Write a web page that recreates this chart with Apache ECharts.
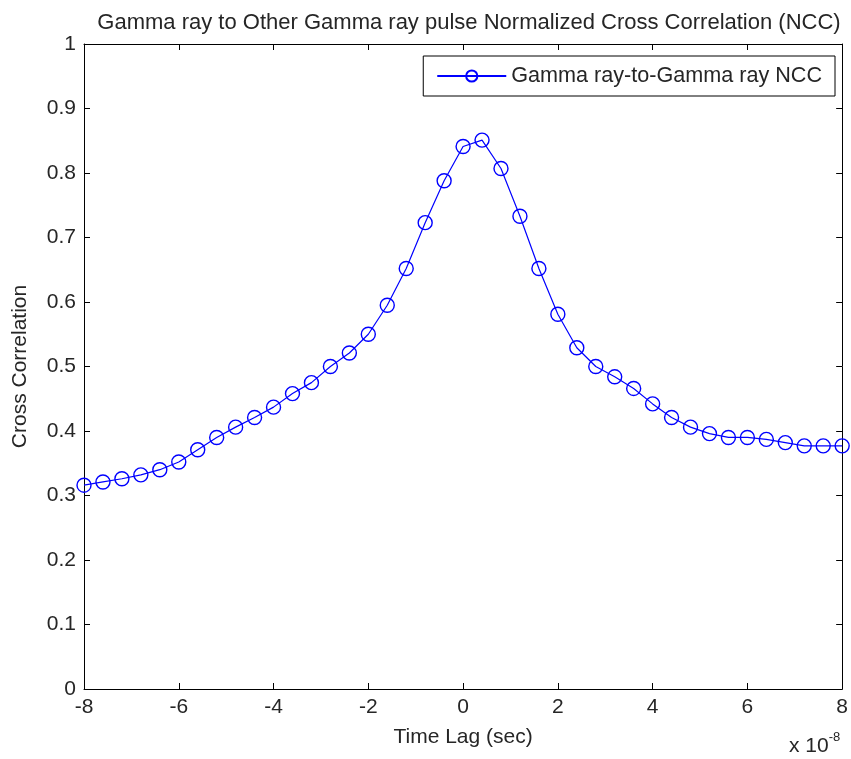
<!DOCTYPE html>
<html>
<head>
<meta charset="utf-8">
<script src="https://cdn.jsdelivr.net/npm/echarts@6/dist/echarts.min.js"></script>
<style>
  html, body { margin: 0; padding: 0; background: #fff; }
  #chart { width: 851px; height: 759px; }
</style>
</head>
<body>
<div id="chart"></div>
<script>
// Time lag, in units of 1e-8 s
const lags = [
  -8.0, -7.6, -7.2, -6.8, -6.4, -6.0, -5.6, -5.2, -4.8, -4.4,
  -4.0, -3.6, -3.2, -2.8, -2.4, -2.0, -1.6, -1.2, -0.8, -0.4,
   0.0,  0.4,  0.8,  1.2,  1.6,  2.0,  2.4,  2.8,  3.2,  3.6,
   4.0,  4.4,  4.8,  5.2,  5.6,  6.0,  6.4,  6.8,  7.2,  7.6, 8.0
];
// Normalized cross correlation at each lag
const ncc = [
  0.316, 0.321, 0.326, 0.332, 0.340, 0.352, 0.371, 0.390, 0.406, 0.421,
  0.437, 0.458, 0.475, 0.500, 0.521, 0.550, 0.595, 0.652, 0.723, 0.788,
  0.841, 0.851, 0.807, 0.733, 0.652, 0.581, 0.529, 0.500, 0.484, 0.466,
  0.442, 0.421, 0.406, 0.396, 0.390, 0.390, 0.387, 0.382, 0.377, 0.377, 0.377
];
const seriesName = 'Gamma ray-to-Gamma ray NCC';
const titleText = 'Gamma ray to Other Gamma ray pulse Normalized Cross Correlation (NCC)';

const FONT = 'Liberation Sans, Arial, sans-serif';
const INK = '#000000';
const TEXT = '#262626';
const FS = 21;

const points = lags.map((x, i) => [x, ncc[i]]);

const chart = echarts.init(document.getElementById('chart'), null, { renderer: 'canvas' });

// Mirror axes that close the box on the top and right, with inward ticks
const frameAxis = {
  type: 'value',
  axisLine: { show: true, onZero: false, lineStyle: { color: INK, width: 1 } },
  axisTick: { show: true, inside: true, length: 6, lineStyle: { color: INK } },
  axisLabel: { show: false },
  splitLine: { show: false }
};

chart.setOption({
  animation: false,
  backgroundColor: '#ffffff',
  title: {
    text: titleText,
    left: 464, top: 7,
    textAlign: 'center',
    textStyle: { fontFamily: FONT, fontSize: 22, fontWeight: 'normal', color: TEXT }
  },
  grid: { left: 84, right: 7, top: 44, bottom: 70, containLabel: false },
  legend: {
    right: 16, top: 56,
    data: [seriesName],
    backgroundColor: '#ffffff',
    borderColor: INK, borderWidth: 1,
    padding: [9, 13, 9, 13],
    itemWidth: 69, itemHeight: 14,
    itemGap: 6,
    textStyle: { fontFamily: FONT, fontSize: 21.6, color: TEXT, padding: [0, 0, 0, 0] }
  },
  xAxis: [
    {
      type: 'value',
      min: -8, max: 8, interval: 2,
      name: 'Time Lag (sec)',
      nameLocation: 'middle', nameGap: 38,
      nameTextStyle: { fontFamily: FONT, fontSize: FS, color: TEXT },
      axisLine: { show: true, onZero: false, lineStyle: { color: INK, width: 1 } },
      axisTick: { show: true, inside: true, length: 6, lineStyle: { color: INK } },
      axisLabel: { fontFamily: FONT, fontSize: FS, color: TEXT, margin: 8 },
      splitLine: { show: false }
    },
    Object.assign({}, frameAxis, { min: -8, max: 8, interval: 2, position: 'top' })
  ],
  yAxis: [
    {
      type: 'value',
      min: 0, max: 1, interval: 0.1,
      name: 'Cross Correlation',
      nameLocation: 'middle', nameGap: 53, nameRotate: 90,
      nameTextStyle: { fontFamily: FONT, fontSize: FS, color: TEXT },
      axisLine: { show: true, onZero: false, lineStyle: { color: INK, width: 1 } },
      axisTick: { show: true, inside: true, length: 6, lineStyle: { color: INK } },
      axisLabel: { fontFamily: FONT, fontSize: FS, color: TEXT, margin: 8 },
      splitLine: { show: false }
    },
    Object.assign({}, frameAxis, { min: 0, max: 1, interval: 0.1, position: 'right' })
  ],
  graphic: [{
    type: 'text',
    left: 789, top: 731,
    style: {
      text: '{b|x 10}{s|-8}',
      rich: {
        b: { fontFamily: FONT, fontSize: FS, fill: TEXT, verticalAlign: 'bottom', lineHeight: 26 },
        s: { fontFamily: FONT, fontSize: 13, fill: TEXT, verticalAlign: 'top', lineHeight: 26 }
      }
    }
  }],
  series: [{
    name: seriesName,
    type: 'line',
    xAxisIndex: 0, yAxisIndex: 0,
    data: points,
    symbol: 'circle',
    symbolSize: 14,
    showAllSymbol: true,
    lineStyle: { color: '#0000ff', width: 1.2 },
    itemStyle: { color: 'rgba(0,0,0,0)', borderColor: '#0000ff', borderWidth: 1.4 },
    emphasis: { disabled: true }
  }]
});
</script>
</body>
</html>
